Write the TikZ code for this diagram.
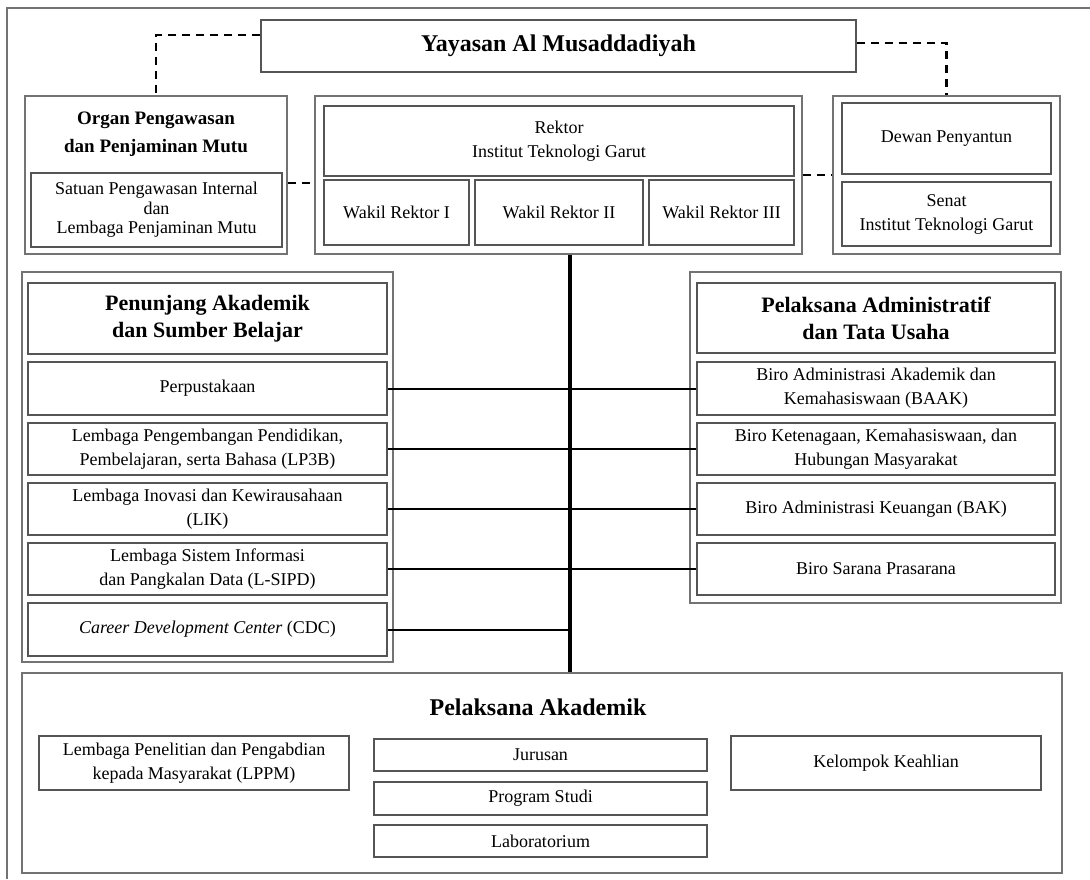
\documentclass[tikz,border=0pt]{standalone}
\usepackage{fontspec}
\setmainfont{Liberation Serif}
\usetikzlibrary{calc}
\definecolor{boxgray}{RGB}{85,85,85}
\definecolor{grpgray}{RGB}{115,115,115}
\tikzset{
  unit/.style={draw=boxgray, line width=1.4pt, align=center, inner sep=0pt,
    font=\fontsize{18}{24}\selectfont},
  group/.style={draw=grpgray, line width=1.8pt, inner sep=0pt},
  sz/.style 2 args={minimum width=#1pt, minimum height=#2pt},
  headline/.style={align=center, font=\fontsize{22}{27}\selectfont\bfseries},
  dashlink/.style={line width=2.8pt, dash pattern=on 8pt off 6pt},
  link/.style={line width=2pt},
  spineline/.style={line width=3.5pt},
}
\begin{document}
\begin{tikzpicture}[x=1pt,y=-1pt]
  \useasboundingbox (0,0) rectangle (1090,879);
  \draw[grpgray, line width=1.8pt] (7,879) -- (7,8) -- (1090,8);
  % top level
  \node[unit, sz={595}{52}, font=\fontsize{24}{28}\selectfont\bfseries] (yayasan) at (558.5,46) {Yayasan Al Musaddadiyah};
  % pengawasan
  \node[group, sz={262}{158}] (organ) at (156,175) {};
  \node[headline, font=\fontsize{19}{28}\selectfont\bfseries] (organtitle) at (156,134) {Organ Pengawasan\\dan Penjaminan Mutu};
  \node[unit, sz={251}{74}, font=\fontsize{18}{19.5}\selectfont] (spi) at (156.5,210) {Satuan Pengawasan Internal\\dan\\Lembaga Penjaminan Mutu};
  % rektor
  \node[group, sz={487}{158}] (rektorgrp) at (558.5,175) {};
  \node[unit, sz={470}{70}] (rektor) at (559,141) {Rektor\\Institut Teknologi Garut};
  \node[unit, sz={145}{65}] (wr1) at (396.5,212.5) {Wakil Rektor I};
  \node[unit, sz={168}{65}] (wr2) at (559,212.5) {Wakil Rektor II};
  \node[unit, sz={145}{65}] (wr3) at (721.5,212.5) {Wakil Rektor III};
  % dewan dan senat
  \node[group, sz={227}{158}] (dewangrp) at (946.5,175) {};
  \node[unit, sz={209}{71}] (dewan) at (946.5,138.5) {Dewan Penyantun};
  \node[unit, sz={209}{64}] (senat) at (946.5,214) {Senat\\Institut Teknologi Garut};
  % penunjang akademik
  \node[group, sz={371}{390}] (penunjang) at (207.5,467) {};
  \node[unit, sz={359}{71}, headline] (pentitle) at (207.5,318.5) {Penunjang Akademik\\dan Sumber Belajar};
  \node[unit, sz={359}{53}] (perpus) at (207.5,388.5) {Perpustakaan};
  \node[unit, sz={359}{52}] (lp3b) at (207.5,449) {Lembaga Pengembangan Pendidikan,\\Pembelajaran, serta Bahasa (LP3B)};
  \node[unit, sz={359}{52}] (lik) at (207.5,509) {Lembaga Inovasi dan Kewirausahaan\\(LIK)};
  \node[unit, sz={359}{52}] (lsipd) at (207.5,569) {Lembaga Sistem Informasi\\dan Pangkalan Data (L-SIPD)};
  \node[unit, sz={359}{53}] (cdc) at (207.5,629.5) {\textit{Career Development Center} (CDC)};
  % administratif
  \node[group, sz={371}{331}] (admin) at (875.5,437.5) {};
  \node[unit, sz={358}{70}, headline] (admtitle) at (876,318) {Pelaksana Administratif\\dan Tata Usaha};
  \node[unit, sz={358}{53}] (baak) at (876,388.5) {Biro Administrasi Akademik dan\\Kemahasiswaan (BAAK)};
  \node[unit, sz={358}{52}] (birok) at (876,449) {Biro Ketenagaan, Kemahasiswaan, dan\\Hubungan Masyarakat};
  \node[unit, sz={358}{52}] (bak) at (876,509) {Biro Administrasi Keuangan (BAK)};
  \node[unit, sz={358}{52}] (sarana) at (876,569) {Biro Sarana Prasarana};
  % pelaksana akademik
  \node[group, sz={1040}{200}] (akademik) at (542,773) {};
  \node[headline, font=\fontsize{24}{28}\selectfont\bfseries] (aktitle) at (538,707) {Pelaksana Akademik};
  \node[unit, sz={310}{54}] (lppm) at (194,763) {Lembaga Penelitian dan Pengabdian\\kepada Masyarakat (LPPM)};
  \node[unit, sz={333}{32}] (jurusan) at (540.5,755) {Jurusan};
  \node[unit, sz={333}{33}] (prodi) at (540.5,798.5) {Program Studi};
  \node[unit, sz={333}{32}] (lab) at (540.5,841) {Laboratorium};
  \node[unit, sz={310}{54}] (kk) at (886,763) {Kelompok Keahlian};
  % garis putus-putus
  \draw[dashlink] ([yshift=11pt]yayasan.west) -| (organ.north);
  \draw[dashlink] ([yshift=3pt]yayasan.east) -| (dewangrp.north);
  \draw[dashlink] ([yshift=-8pt]organ.east) -- ([yshift=-8pt]rektorgrp.west);
  \draw[dashlink] (rektorgrp) -- (dewangrp);
  % garis komando
  \coordinate (spine) at (570,460);
  \draw[spineline] (rektorgrp.south -| spine) -- (akademik.north -| spine);
  \draw[link] (perpus) -- (baak);
  \draw[link] (lp3b) -- (birok);
  \draw[link] (lik) -- (bak);
  \draw[link] (lsipd) -- (sarana);
  \draw[link] (cdc.east) -- (cdc -| spine);
\end{tikzpicture}
\end{document}
